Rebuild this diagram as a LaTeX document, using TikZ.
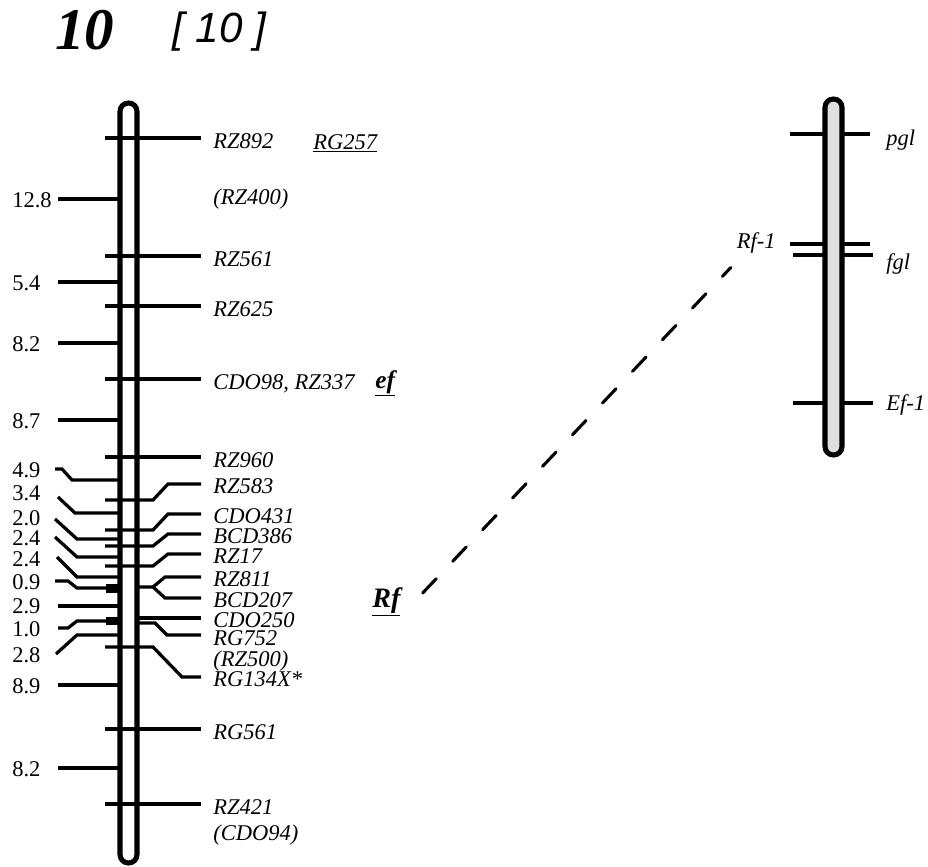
\documentclass[tikz,border=0pt]{standalone}
\usepackage{fontspec}
\setmainfont{Liberation Serif}
\setsansfont{Liberation Sans}
\usetikzlibrary{positioning,calc}

\begin{document}
\begin{tikzpicture}[x=0.025cm,y=-0.025cm,
 mk/.style={font=\fontsize{16}{16}\selectfont\itshape,anchor=west,inner sep=0pt,text height=11pt,text depth=1pt},
 smk/.style={font=\fontsize{16}{16}\selectfont\itshape,inner sep=0pt},
 dist/.style={font=\fontsize{16}{16}\selectfont,anchor=west,inner sep=0pt,text height=11pt,text depth=1pt},
 tick/.style={line width=2.3pt},
 chrom/.style={line width=3.6pt,rounded corners=6pt},
 dashline/.style={line width=2.2pt,line cap=round,dash pattern=on 14pt off 17pt}]
\useasboundingbox (0,0) rectangle (928,867);

% title
\node[inner sep=0pt,anchor=base west,font=\fontsize{42}{42}\selectfont\bfseries\itshape] (chrno) at (55,50) {10};
\node[inner sep=0pt,anchor=base west,font=\fontsize{30}{30}\selectfont\sffamily\itshape] (chrnob) at (172,43) {[ 10 ]};

% left chromosome
\draw[chrom,fill=white] (120,103) rectangle (137,863);
\fill (106,584) rectangle (120,593);
\fill (106,617) rectangle (120,625);

% straight markers
\foreach \y/\nm/\txt in {138/rz892/RZ892, 256/rz561/RZ561, 306/rz625/RZ625,
  379/cdo98/{CDO98, RZ337}, 457/rz960/RZ960, 729/rg561/RG561, 804/rz421/RZ421}{
  \draw[tick] (105,\y) -- (201,\y);
  \node[mk] (\nm) at (213,\y+3) {\txt};
}
% bent markers
\foreach \t/\l/\nm/\txt in {500/484/rz583/RZ583, 530/514/cdo431/CDO431,
  546/534/bcd386/BCD386, 566/554/rz17/RZ17}{
  \draw[tick] (105,\t) -- (153,\t) -- (168,\l) -- (201,\l);
  \node[mk] (\nm) at (213,\l+2) {\txt};
}
\draw[tick] (137,587) -- (153,587) -- (165,577) -- (201,577);
\draw[tick] (153,587) -- (165,598) -- (201,598);
\node[mk] (rz811) at (213,579) {RZ811};
\node[mk] (bcd207) at (213,600) {BCD207};
\draw[tick] (137,618) -- (201,618);
\node[mk] (cdo250) at (213,620) {CDO250};
\draw[tick] (137,623) -- (155,623) -- (167,635) -- (201,635);
\node[mk] (rg752) at (213,638) {RG752};
\node[mk] (rz500) at (213,659) {(RZ500)};
\draw[tick] (105,647) -- (153,647) -- (182,677) -- (201,677);
\node[mk] (rg134) at (213,679) {RG134X*};
\node[mk] (rz400) at (213,197) {(RZ400)};
\node[mk] (cdo94) at (213,833) {(CDO94)};
\node[mk] (rg257) at (313,142) {\underline{RG257}};
\node[mk,font=\fontsize{18}{18}\selectfont\bfseries\itshape] (ef) at (375,381) {\underline{ef}};
\node[mk,font=\fontsize{20}{20}\selectfont\bfseries\itshape] (rf) at (372,600) {\underline{Rf}};

% intervals
\foreach \y/\v in {199/12.8, 282/5.4, 343/8.2, 420/8.7, 606/2.9, 685/8.9, 768/8.2}{
  \draw[tick] (58,\y) -- (119,\y);
}
\draw[tick] (55,469) -- (62,469) -- (72,480) -- (119,480);
\draw[tick] (58,497) -- (75,513) -- (119,513);
\draw[tick] (55,519) -- (77,539) -- (119,539);
\draw[tick] (55,537) -- (77,557) -- (119,557);
\draw[tick] (57,557) -- (77,577) -- (119,577);
\draw[tick] (55,581) -- (68,581) -- (77,588) -- (119,588);
\draw[tick] (58,628) -- (68,628) -- (77,621) -- (119,621);
\draw[tick] (56,654) -- (77,635) -- (119,635);
\foreach \y/\v [count=\i] in {199/12.8, 282/5.4, 343/8.2, 420/8.7, 469/4.9, 492/3.4,
  517/2.0, 537/2.4, 558/2.4, 581/0.9, 605/2.9, 628/1.0, 654/2.8, 685/8.9, 768/8.2}{
  \node[dist] (d\i) at (12,\y+1) {\v};
}

% right chromosome
\draw[tick] (790,134) -- (870,134);
\draw[tick] (790,244) -- (870,244);
\draw[tick] (793,255) -- (873,255);
\draw[tick] (793,403) -- (873,403);
\draw[chrom,fill=gray!25] (825,99) rectangle (842,455);
\node[smk,anchor=west] (pgl) at (886,140) {pgl};
\node[smk,anchor=east] (rf1) at (776,243) {Rf-1};
\node[smk,anchor=west] (fgl) at (886,264) {fgl};
\node[smk,anchor=west] (ef1) at (886,405) {Ef-1};

\draw[dashline] ([shift={(22,-7)}]rf.east) -- ([shift={(-6,14)}]rf1.south west);
\end{tikzpicture}
\end{document}
